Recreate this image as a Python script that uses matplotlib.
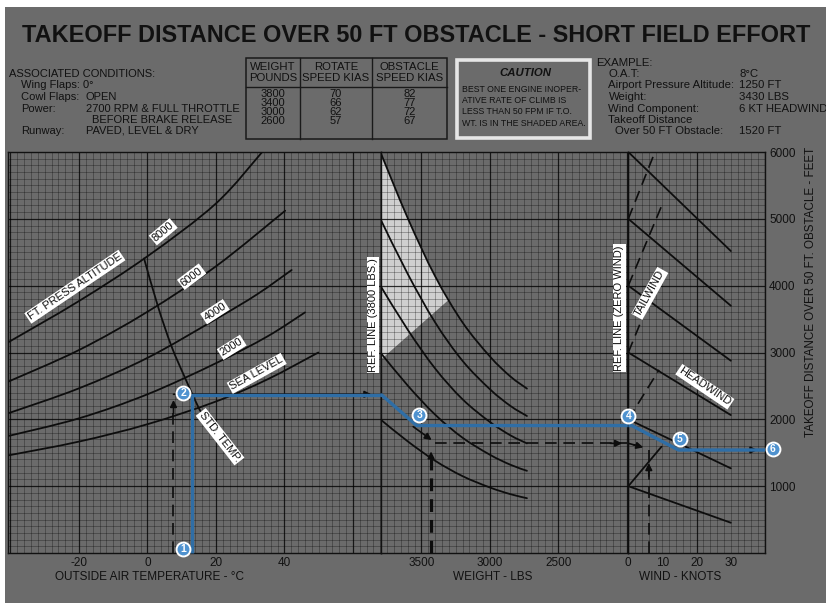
import numpy as np
import matplotlib
matplotlib.use("Agg")
import matplotlib.pyplot as plt
from matplotlib.patches import Rectangle, Polygon, PathPatch
from matplotlib.path import Path
from matplotlib.lines import Line2D

plt.rcParams['font.family'] = ['Liberation Sans', 'DejaVu Sans']

# ---------------- data ----------------
TITLE = "TAKEOFF DISTANCE OVER 50 FT OBSTACLE - SHORT FIELD EFFORT"

temp_ticks = [-40, -20, 0, 20, 40, 60]
temp_tick_labels = ['', '-20', '0', '20', '40', '']
weight_ticks = [3500, 3000, 2500, 2000]
weight_tick_labels = ['3500', '3000', '2500', '']
wind_ticks = [0, 10, 20, 30]
dist_ticks = [1000, 2000, 3000, 4000, 5000, 6000]

# pressure altitude curves: OAT (deg C) -> distance (ft)
alt_sl_T = [-40.7, -20, 0, 20, 35, 49.9]
alt_sl_D = [1460, 1667, 1927, 2267, 2597, 3000]
alt_2000_T = [-40.7, -20, 0, 20, 35, 46]
alt_2000_D = [1750, 2015, 2375, 2840, 3240, 3600]
alt_4000_T = [-40.7, -20, 0, 20, 32, 42.1]
alt_4000_D = [2090, 2464, 2920, 3500, 3870, 4234]
alt_6000_T = [-40.7, -20, 0, 20, 40.2]
alt_6000_D = [2563, 3037, 3610, 4290, 5121]
alt_8000_T = [-40.7, -20, 0, 20, 33.5]
alt_8000_D = [3152, 3770, 4440, 5230, 6000]
std_temp_T = [-1, 3, 7, 11, 15, 16.3]
std_temp_D = [4407, 3700, 3095, 2617, 2167, 2080]

# weight correction curves: weight (lbs) -> distance (ft)
wt_W = [3800, 3600, 3400, 3200, 3000, 2850, 2730]
wt_6000 = [6000, 5010, 4140, 3450, 2940, 2640, 2460]
wt_5000 = [5000, 4175, 3450, 2875, 2450, 2200, 2050]
wt_4000 = [4000, 3340, 2760, 2300, 1960, 1760, 1640]
wt_3000 = [3000, 2505, 2070, 1725, 1470, 1320, 1230]
wt_2000 = [2000, 1670, 1380, 1150, 980, 880, 820]
shade_W = [3800, 3600, 3400, 3300, 3800]
shade_D = [6000, 5010, 4140, 3790, 2887]

# wind correction lines
wind_ref_D = [1000, 2000, 3000, 4000, 5000, 6000]
headwind_end_kt = 30
headwind_end_D = [453, 1267, 2064, 2877, 3700, 4518]
tailwind_start_D = [1000, 2000, 3000, 4000, 5000]
tailwind_end_kt = [9.7, 9.0, 10.0, 9.8, 7.8]
tailwind_end_D = [1590, 2740, 4250, 5200, 6000]

# example path (blue)
path_oat = [12.9, 12.9, 68.1]
path_oat_D = [0, 2364, 2364]
path_wt = [3800, 3790, 3535, 1990]
path_wt_D = [2364, 2364, 1907, 1907]
path_wind = [0, 1.0, 14.7, 40]
path_wind_D = [1907, 1907, 1541, 1541]

# example dashed construction (black)
ex_oat = 7.6
ex_oat_top = 2290
ex_weight = 3430
ex_weight_D = 1641
ex_wind = 6
ex_result = 1520

# numbered markers
mk_oat = [(10.45, 60, '1'), (10.45, 2389, '2')]
mk_wt = [(3516, 2072, '3')]
mk_wind = [(0, 2057, '4'), (15.1, 1701, '5'), (42.3, 1551, '6')]

# header texts
cond_title = "ASSOCIATED CONDITIONS:"
cond_keys = ["Wing Flaps: 0\u00b0", "Cowl Flaps:", "Power:", "", "Runway:"]
cond_vals = ["", "OPEN", "2700 RPM & FULL THROTTLE", "BEFORE BRAKE RELEASE", "PAVED, LEVEL & DRY"]
tbl_head1 = ["WEIGHT", "ROTATE", "OBSTACLE"]
tbl_head2 = ["POUNDS", "SPEED KIAS", "SPEED KIAS"]
tbl_weight = ["3800", "3400", "3000", "2600"]
tbl_rotate = ["70", "66", "62", "57"]
tbl_obstacle = ["82", "77", "72", "67"]
caution_title = "CAUTION"
caution_lines = ["BEST ONE ENGINE INOPER-", "ATIVE RATE OF CLIMB IS",
                 "LESS THAN 50 FPM IF T.O.", "WT. IS IN THE SHADED AREA."]
example_title = "EXAMPLE:"
example_keys = ["O.A.T:", "Airport Pressure Altitude:", "Weight:", "Wind Component:",
                "Takeoff Distance", "Over 50 FT Obstacle:"]
example_vals = ["8\u00b0C", "1250 FT", "3430 LBS", "6 KT HEADWIND", "", "1520 FT"]

# ---------------- style ----------------
BG = '#6b6b6b'
TXT = '#111111'
BLUE = '#2f6ea6'
MK = '#4f92cf'
W, H = 826, 603

fig = plt.figure(figsize=(W / 100, H / 100), dpi=100, facecolor=BG)
fig.patches.append(Rectangle((0, 1 - 7 / H), 1, 7 / H, transform=fig.transFigure,
                             fc='white', ec='none', zorder=0))
fig.patches.append(Rectangle((0, 0), 5 / W, 1, transform=fig.transFigure,
                             fc='white', ec='none', zorder=0))


def fx(x):
    return x / W


def fy(y):
    return 1 - y / H


def ftext(x, y, s, **kw):
    d = dict(ha='left', va='center', color=TXT, fontsize=8)
    d.update(kw)
    return fig.text(fx(x), fy(y), s, **d)


def fline(x0, y0, x1, y1, **kw):
    d = dict(color='#1a1a1a', lw=1.0)
    d.update(kw)
    fig.add_artist(Line2D([fx(x0), fx(x1)], [fy(y0), fy(y1)], transform=fig.transFigure, **d))


def axbox(x0, x1, y0=152, y1=553):
    return [x0 / W, 1 - y1 / H, (x1 - x0) / W, (y1 - y0) / H]


ax_t = fig.add_axes(axbox(8, 380.5))
ax_w = fig.add_axes(axbox(380.5, 628.3))
ax_v = fig.add_axes(axbox(628.3, 765))

ax_t.set_xlim(-40.73, 68.05)
ax_w.set_xlim(3799, 1990)
ax_v.set_xlim(0, 40)
for ax in (ax_t, ax_w, ax_v):
    ax.set_ylim(0, 6000)
    ax.set_facecolor(BG)
    for sp in ax.spines.values():
        sp.set_color('#111111')
        sp.set_linewidth(1.0)
    ax.tick_params(length=0, labelsize=8.5, colors=TXT, pad=3)


def grid(ax, xs_minor, xs_major):
    for x in xs_minor:
        ax.axvline(x, color='k', alpha=0.36, lw=0.55, zorder=1)
    for x in xs_major:
        ax.axvline(x, color='k', alpha=0.7, lw=0.9, zorder=1.1)
    for y in np.arange(100, 6000, 100):
        ax.axhline(y, color='k', alpha=0.36, lw=0.55, zorder=1)
    for y in range(1000, 6000, 1000):
        ax.axhline(y, color='k', alpha=0.7, lw=0.9, zorder=1.1)


grid(ax_t, np.arange(-40, 68.1, 2), temp_ticks)
grid(ax_w, np.arange(2000, 3800.1, 50), weight_ticks)
grid(ax_v, np.arange(0, 40.1, 2), [0, 20, 40])

ax_t.set_xticks(temp_ticks, temp_tick_labels)
ax_t.set_yticks([])
ax_w.set_xticks(weight_ticks, weight_tick_labels)
ax_w.set_yticks([])
ax_v.set_xticks(wind_ticks, [str(v) for v in wind_ticks])
ax_v.yaxis.tick_right()
ax_v.set_yticks(dist_ticks, [str(v) for v in dist_ticks])
ax_v.tick_params(axis='y', pad=3)

CURVE = dict(color='#0d0d0d', lw=1.3, zorder=3, solid_capstyle='round')


def smooth_curve(ax, xs, ys, lw=1.3):
    """Draw a smooth (Catmull-Rom -> cubic Bezier) curve through the given points."""
    P = np.column_stack([xs, ys]).astype(float)
    n = len(P)
    verts = [P[0]]
    codes = [Path.MOVETO]
    for i in range(n - 1):
        p0 = P[i - 1] if i > 0 else P[i]
        p1, p2 = P[i], P[i + 1]
        p3 = P[i + 2] if i + 2 < n else P[i + 1]
        c1 = p1 + (p2 - p0) / 6.0
        c2 = p2 - (p3 - p1) / 6.0
        verts += [c1, c2, p2]
        codes += [Path.CURVE4] * 3
    ax.add_patch(PathPatch(Path(verts, codes), fc='none', ec='#0d0d0d', lw=lw,
                           capstyle='round', zorder=3))


# --- temperature panel ---
for T, D in [(alt_sl_T, alt_sl_D), (alt_2000_T, alt_2000_D), (alt_4000_T, alt_4000_D),
             (alt_6000_T, alt_6000_D), (alt_8000_T, alt_8000_D)]:
    smooth_curve(ax_t, T, D)
smooth_curve(ax_t, std_temp_T, std_temp_D)

# --- weight panel ---
ax_w.add_patch(Polygon(list(zip(shade_W, shade_D)), closed=True, fc='#cfcfcf', ec='none', zorder=0.5))
for D in [wt_6000, wt_5000, wt_4000, wt_3000, wt_2000]:
    smooth_curve(ax_w, wt_W, D)
ax_w.axvline(3800, color='#0d0d0d', lw=1.4, zorder=3)

# --- wind panel ---
ax_v.axvline(0, color='#0d0d0d', lw=1.4, zorder=3)
for d0, d1 in zip(wind_ref_D, headwind_end_D):
    ax_v.plot([0, headwind_end_kt], [d0, d1], **CURVE)
for i, (d0, k1, d1) in enumerate(zip(tailwind_start_D, tailwind_end_kt, tailwind_end_D)):
    if i == 0:
        ax_v.plot([0, k1], [d0, d1], **CURVE)
    else:
        ax_v.plot([0, k1], [d0, d1], color='#0d0d0d', lw=1.2, zorder=3,
                  linestyle=(0, (7, 4)))

# --- example dashed construction ---
DASH = dict(color='#0d0d0d', lw=1.2, zorder=4, linestyle=(0, (7, 4)))
ARW = dict(arrowstyle='-|>', color='#0d0d0d', lw=1.2, mutation_scale=10, shrinkA=0, shrinkB=0)
ax_t.plot([ex_oat, ex_oat], [0, ex_oat_top - 150], **DASH)
ax_t.annotate('', xy=(ex_oat, ex_oat_top), xytext=(ex_oat, ex_oat_top - 200), arrowprops=ARW, zorder=4)
ax_t.annotate('', xy=(65.4, 2375), xytext=(ex_oat, 2375), arrowprops=ARW, zorder=4)

ax_w.annotate('', xy=(3425, 1690), xytext=(3560, 1890), arrowprops=ARW, zorder=4)
ax_w.plot([3400, 2000], [ex_weight_D, ex_weight_D], **DASH)
ax_w.annotate('', xy=(2035, ex_weight_D), xytext=(2120, ex_weight_D), arrowprops=ARW, zorder=4)
ax_w.plot([ex_weight, ex_weight], [0, 1400], color='#0d0d0d', lw=2.3, zorder=4, linestyle=(0, (4, 2.5)))
ax_w.annotate('', xy=(ex_weight, 1520), xytext=(ex_weight, 1300), arrowprops=ARW, zorder=4)

ax_v.plot([0, 4.4], [ex_weight_D, 1581], **DASH)
ax_v.annotate('', xy=(4.4, 1581), xytext=(1.5, 1620), arrowprops=ARW, zorder=4)
ax_v.plot([ex_wind, ex_wind], [0, ex_result + 20], **DASH)
ax_v.annotate('', xy=(ex_wind, 1346), xytext=(ex_wind, 1150), arrowprops=ARW, zorder=4)
ax_v.annotate('', xy=(37.8, 1541), xytext=(15, 1541), arrowprops=ARW, zorder=4)

# --- blue example path ---
BL = dict(color=BLUE, lw=2.4, zorder=5, solid_capstyle='butt', solid_joinstyle='round')
ax_t.plot(path_oat, path_oat_D, clip_on=False, **BL)
ax_w.plot(path_wt, path_wt_D, clip_on=False, **BL)
ax_v.plot(path_wind, path_wind_D, clip_on=False, **BL)

for ax, pts in [(ax_t, mk_oat), (ax_w, mk_wt), (ax_v, mk_wind)]:
    for x, y, s in pts:
        ax.plot([x], [y], 'o', ms=10, mfc=MK, mec='white', mew=1.4, zorder=8, clip_on=False)
        ax.text(x, y, s, ha='center', va='center', color='white', fontsize=7.5,
                fontweight='bold', zorder=9, clip_on=False)

# --- in-plot labels ---
BOX = dict(boxstyle='square,pad=0.12', fc='white', ec='none')


def label(ax, x, y, s, rot, fs=8):
    ax.text(x, y, s, rotation=rot, rotation_mode='anchor', ha='center', va='center',
            fontsize=fs, color=TXT, zorder=7, bbox=BOX)


label(ax_t, -21.2, 3984, "FT. PRESS ALTITUDE", 34)
label(ax_t, 4.6, 4807, "8000", 40)
label(ax_t, 12.9, 4134, "6000", 37)
label(ax_t, 19.7, 3610, "4000", 33)
label(ax_t, 24.6, 3077, "2000", 32)
label(ax_t, 31.9, 2688, "SEA LEVEL", 29)
label(ax_t, 21.2, 1740, "STD. TEMP.", -52)
label(ax_t, 65.9, 3560, "REF. LINE (3800 LBS.)", 90)
label(ax_w, 2056, 3661, "REF. LINE (ZERO WIND)", 90)
label(ax_v, 6.3, 3885, "TAILWIND", 61)
label(ax_v, 22.4, 2488, "HEADWIND", -34)

# --- axis labels ---
ftext(149.4, 577, "OUTSIDE AIR TEMPERATURE - \u00b0C", ha='center', fontsize=8.5)
ftext(493, 577, "WEIGHT - LBS", ha='center', fontsize=8.5)
ftext(680, 577, "WIND - KNOTS", ha='center', fontsize=8.5)
ftext(811, 292, "TAKEOFF DISTANCE OVER 50 FT. OBSTACLE - FEET", ha='center', rotation=90, fontsize=8.4)

# --- title ---
ftext(22, 36, TITLE, fontsize=16.9, fontweight='bold')

# --- associated conditions ---
ftext(9, 74, cond_title)
rows_y = [85, 97.5, 109, 120, 130.5]
for k, v, y in zip(cond_keys, cond_vals, rows_y):
    if k:
        ftext(21, y, k)
    if v:
        ftext(92 if v.startswith("BEFORE") else 86, y, v)

# --- speed table ---
fig.patches.append(Rectangle((fx(246), fy(139.3)), fx(447.3) - fx(246), fy(58.3) - fy(139.3),
                             transform=fig.transFigure, fc='none', ec='#1a1a1a', lw=1.1))
fline(246, 87.3, 447.3, 87.3)
fline(300, 58.3, 300, 139.3)
fline(371.7, 58.3, 371.7, 139.3)
col_x = [273, 335.8, 409.5]
for cx, h1, h2 in zip(col_x, tbl_head1, tbl_head2):
    ftext(cx, 66.5, h1, ha='center', fontsize=8.2)
    ftext(cx, 78, h2, ha='center', fontsize=8.2)
for y, a, b, c in zip([94, 103, 112.3, 121.3], tbl_weight, tbl_rotate, tbl_obstacle):
    ftext(col_x[0], y, a, ha='center', fontsize=8)
    ftext(col_x[1], y, b, ha='center', fontsize=8)
    ftext(col_x[2], y, c, ha='center', fontsize=8)

# --- caution box ---
fig.patches.append(Rectangle((fx(457.5), fy(137.8)), fx(590.2) - fx(457.5), fy(59.8) - fy(137.8),
                             transform=fig.transFigure, fc='none', ec='#e6e6e6', lw=2.6))
ftext(525, 72.7, caution_title, ha='center', fontweight='bold', style='italic', fontsize=8.2)
for y, s in zip([89.3, 100.8, 112, 123.3], caution_lines):
    ftext(461.7, y, s, fontsize=6.3)

# --- example ---
ftext(596, 62.5, example_title, fontsize=8.2)
for k, v, y in zip(example_keys, example_vals, [74, 85.5, 97, 109.3, 120.3, 131.3]):
    ftext(615 if k.startswith("Over") else 608.5, y, k, fontsize=8.2)
    if v:
        ftext(739, y, v, fontsize=8.2)

fig.savefig("out.png", dpi=100, facecolor=BG)
